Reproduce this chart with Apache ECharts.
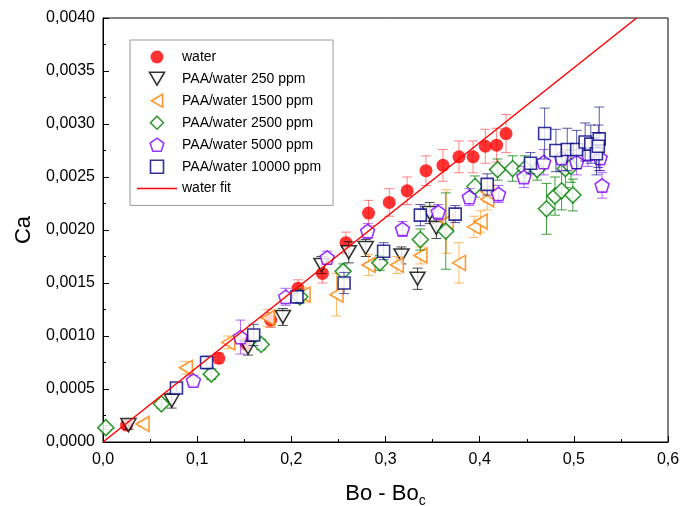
<!DOCTYPE html>
<html>
<head>
<meta charset="utf-8">
<script src="https://cdn.jsdelivr.net/npm/echarts@6/dist/echarts.min.js"></script>
<style>html,body{margin:0;padding:0;background:#fff;}#c{width:687px;height:506px;}</style>
</head>
<body>
<div id="c"></div>
<script>
// ---- data ----
const xTicks = ['0,0','0,1','0,2','0,3','0,4','0,5','0,6'];
const yTicks = ['0,0000','0,0005','0,0010','0,0015','0,0020','0,0025','0,0030','0,0035','0,0040'];

const waterX = [0.025, 0.123, 0.152, 0.178, 0.207, 0.233, 0.258, 0.282, 0.304, 0.323, 0.343, 0.361, 0.378, 0.393, 0.406, 0.418, 0.428];
const waterY = [0.00016, 0.00079, 0.00093, 0.00115, 0.00145, 0.00159, 0.00188, 0.00216, 0.00226, 0.00237, 0.00256, 0.00261, 0.00269, 0.00269, 0.00279, 0.00280, 0.00291];
const waterE = [0.00003, 0.00005, 0.00006, 0.00007, 0.00008, 0.00009, 0.0001, 0.00012, 0.00013, 0.00013, 0.00014, 0.00015, 0.00015, 0.00015, 0.00016, 0.00016, 0.00018];

const p250X = [0.027, 0.073, 0.154, 0.191, 0.232, 0.261, 0.279, 0.317, 0.334, 0.347, 0.354];
const p250Y = [0.00016, 0.00039, 0.00089, 0.00118, 0.00167, 0.00179, 0.00183, 0.00176, 0.00154, 0.00216, 0.00202];
const p250E = [0.00004, 0.00007, 0.00007, 0.00008, 0.00008, 0.0001, 0.00008, 0.00008, 0.0001, 0.0001, 0.0001];

const p1500X = [0.042, 0.088, 0.133, 0.175, 0.213, 0.248, 0.282, 0.312, 0.337, 0.365, 0.378, 0.394, 0.401, 0.408, 0.408];
const p1500Y = [0.00017, 0.0007, 0.00094, 0.00117, 0.00139, 0.00139, 0.00167, 0.00167, 0.00176, 0.00208, 0.00169, 0.00203, 0.00208, 0.00229, 0.00236];
const p1500E = [0.00002, 0.00006, 0.00006, 0.00008, 0.00007, 0.0002, 0.0001, 0.00008, 0.00008, 0.0003, 0.00019, 0.0001, 0.0001, 0.0001, 0.0001];

const p2500X = [0.003, 0.062, 0.115, 0.168, 0.209, 0.255, 0.294, 0.337, 0.364, 0.395, 0.419, 0.435, 0.448, 0.461, 0.471, 0.48, 0.487, 0.491, 0.497, 0.499];
const p2500Y = [0.000135, 0.00036, 0.00064, 0.00092, 0.00137, 0.00161, 0.00169, 0.00191, 0.00199, 0.00241, 0.00257, 0.00258, 0.00258, 0.00257, 0.0022, 0.00232, 0.00237, 0.00258, 0.0026, 0.00233];
const p2500E = [0.00002, 0.00004, 0.00005, 0.00005, 0.00006, 0.00007, 0.00007, 0.0001, 0.00036, 0.0001, 0.0001, 0.00012, 0.00012, 0.0001, 0.00024, 0.00018, 0.00018, 0.00018, 0.00015, 0.00015];

const p5000X = [0.096, 0.146, 0.194, 0.238, 0.281, 0.318, 0.356, 0.389, 0.42, 0.447, 0.468, 0.487, 0.503, 0.515, 0.528, 0.53];
const p5000Y = [0.00058, 0.00099, 0.00137, 0.00174, 0.00199, 0.00201, 0.00217, 0.00231, 0.00234, 0.0025, 0.00264, 0.00268, 0.00264, 0.00272, 0.00268, 0.00242];
const p5000E = [0.00005, 0.00016, 0.00008, 0.00006, 0.00007, 0.00007, 0.00007, 0.00008, 0.00008, 0.0001, 0.00012, 0.00012, 0.00012, 0.00012, 0.00012, 0.00012];

const p10000X = [0.078, 0.110, 0.160, 0.206, 0.256, 0.298, 0.337, 0.374, 0.408, 0.454, 0.469, 0.481, 0.493, 0.503, 0.512, 0.518, 0.524, 0.527, 0.526];
const p10000Y = [0.00051, 0.00075, 0.00101, 0.00137, 0.0015, 0.0018, 0.00214, 0.00215, 0.00243, 0.00263, 0.00291, 0.00275, 0.00276, 0.00276, 0.00283, 0.00281, 0.00272, 0.00286, 0.00279];
const p10000E = [0.00004, 0.00006, 0.0001, 0.00006, 0.0001, 0.00008, 0.0001, 0.00008, 0.0001, 0.0001, 0.00024, 0.0002, 0.0002, 0.00018, 0.00018, 0.00018, 0.0002, 0.0003, 0.0002];

const fitSlope = 0.00706;
const fitX = [0, 0.5666];

// ---- build ----
const FONT = '"Liberation Sans", Arial, sans-serif';
const pentagon = 'path://M0,-1 L0.951,-0.309 L0.588,0.809 L-0.588,0.809 L-0.951,-0.309 Z';
const triDown = 'path://M-1,-0.866 L1,-0.866 L0,0.866 Z';
const triLeft = 'path://M-0.866,0 L0.866,-1 L0.866,1 Z';
const diamond = 'path://M0,-1 L1,0 L0,1 L-1,0 Z';
const square = 'path://M-1,-1 L1,-1 L1,1 L-1,1 Z';
const lineIcon = 'path://M0,0 L40,0 L40,1.5 L0,1.5 Z';

function zip3(xs, ys, es) { return xs.map((x, i) => [x, ys[i], es[i]]); }
function zip2(xs, ys) { return xs.map((x, i) => [x, ys[i]]); }

function errRender(params, api) {
  const x = api.value(0), y = api.value(1), e = api.value(2);
  const t = api.coord([x, y + e]);
  const b = api.coord([x, y - e]);
  const hw = 5;
  const st = { stroke: api.visual('color'), lineWidth: 1, fill: null };
  return { type: 'group', children: [
    { type: 'line', shape: { x1: t[0], y1: t[1], x2: b[0], y2: b[1] }, style: st },
    { type: 'line', shape: { x1: t[0] - hw, y1: t[1], x2: t[0] + hw, y2: t[1] }, style: st },
    { type: 'line', shape: { x1: b[0] - hw, y1: b[1], x2: b[0] + hw, y2: b[1] }, style: st }
  ]};
}

const defs = [
  { name: 'water', x: waterX, y: waterY, e: waterE, color: '#ff0000', ecolor: 'rgba(255,80,80,0.7)', symbol: 'circle', size: 13, filled: true },
  { name: 'PAA/water 250 ppm', x: p250X, y: p250Y, e: p250E, color: '#000000', ecolor: 'rgba(0,0,0,0.7)', symbol: triDown, size: 15 },
  { name: 'PAA/water 1500 ppm', x: p1500X, y: p1500Y, e: p1500E, color: '#ff8000', ecolor: 'rgba(255,140,0,0.6)', symbol: triLeft, size: 15 },
  { name: 'PAA/water 2500 ppm', x: p2500X, y: p2500Y, e: p2500E, color: '#008000', ecolor: 'rgba(0,128,0,0.75)', symbol: diamond, size: 16 },
  { name: 'PAA/water 5000 ppm', x: p5000X, y: p5000Y, e: p5000E, color: '#8000ff', ecolor: 'rgba(128,0,255,0.6)', symbol: pentagon, size: 14 },
  { name: 'PAA/water 10000 ppm', x: p10000X, y: p10000Y, e: p10000E, color: '#000080', ecolor: 'rgba(0,0,128,0.65)', symbol: square, size: 12 }
];

const series = [];
const legendData = [];
defs.forEach((d, i) => {
  series.push({
    type: 'custom', name: d.name + ' err', renderItem: errRender,
    data: zip3(d.x, d.y, d.e), itemStyle: { color: d.ecolor }, z: 2 + i * 2, silent: true,
    encode: { x: 0, y: 1 }
  });
  const style = d.filled ? { color: d.color, borderWidth: 0 } : { color: '#ffffff', borderColor: d.color, borderWidth: 1.6 };
  series.push({
    type: 'scatter', name: d.name, data: zip2(d.x, d.y), symbol: d.symbol, symbolSize: d.size,
    symbolKeepAspect: true, itemStyle: style, z: 3 + i * 2
  });
  legendData.push({ name: d.name, icon: d.symbol, itemStyle: style });
});
series.push({
  type: 'line', name: 'water fit', data: fitX.map(x => [x, x * fitSlope]), symbol: 'none',
  itemStyle: { color: '#ff0000' }, lineStyle: { color: '#ff0000', width: 1.5 }, z: 20, silent: true
});
legendData.push({ name: 'water fit', icon: lineIcon, itemStyle: { color: '#ff0000', borderWidth: 0 } });

const option = {
  animation: false,
  backgroundColor: '#ffffff',
  grid: { left: 103, right: 19, top: 18, bottom: 64, outerBoundsMode: 'none', show: true, borderColor: '#000', borderWidth: 1, backgroundColor: 'transparent' },
  legend: {
    orient: 'vertical', left: 130, top: 40, data: legendData,
    itemWidth: 40, itemHeight: 13, itemGap: 7.4, symbolKeepAspect: true,
    padding: [10, 12, 10, 7],
    borderColor: '#999', borderWidth: 1,
    textStyle: { fontFamily: FONT, fontSize: 14, color: '#000' },
    selectedMode: false
  },
  xAxis: {
    type: 'value', min: 0, max: 0.6, interval: 0.1,
    name: '{a|Bo - Bo}{s|c}', nameLocation: 'middle', nameGap: 38,
    nameTextStyle: { rich: { a: { fontFamily: FONT, fontSize: 22, color: '#000' }, s: { fontFamily: FONT, fontSize: 14, color: '#000', verticalAlign: 'bottom', padding: [14, 0, 0, 0] } } },
    axisLine: { lineStyle: { color: '#000', width: 1 } },
    axisTick: { inside: true, length: 6, lineStyle: { color: '#000' } },
    minorTick: { show: true, splitNumber: 2, length: 3, lineStyle: { color: '#000' } },
    splitLine: { show: false },
    axisLabel: { fontFamily: FONT, fontSize: 16, color: '#000', margin: 10, formatter: (v) => xTicks[Math.round(v * 10)] }
  },
  yAxis: {
    type: 'value', min: 0, max: 0.004, interval: 0.0005,
    name: 'Ca', nameLocation: 'middle', nameGap: 60, nameRotate: 90,
    nameTextStyle: { fontFamily: FONT, fontSize: 22, color: '#000' },
    axisLine: { lineStyle: { color: '#000', width: 1 } },
    axisTick: { inside: true, length: 6, lineStyle: { color: '#000' } },
    minorTick: { show: true, splitNumber: 2, length: 3, lineStyle: { color: '#000' } },
    splitLine: { show: false },
    axisLabel: { fontFamily: FONT, fontSize: 16, color: '#000', margin: 8, formatter: (v) => yTicks[Math.round(v / 0.0005)] }
  },
  series: series
};

const chart = echarts.init(document.getElementById('c'), null, { renderer: 'canvas' });
chart.setOption(option);
</script>
</body>
</html>
